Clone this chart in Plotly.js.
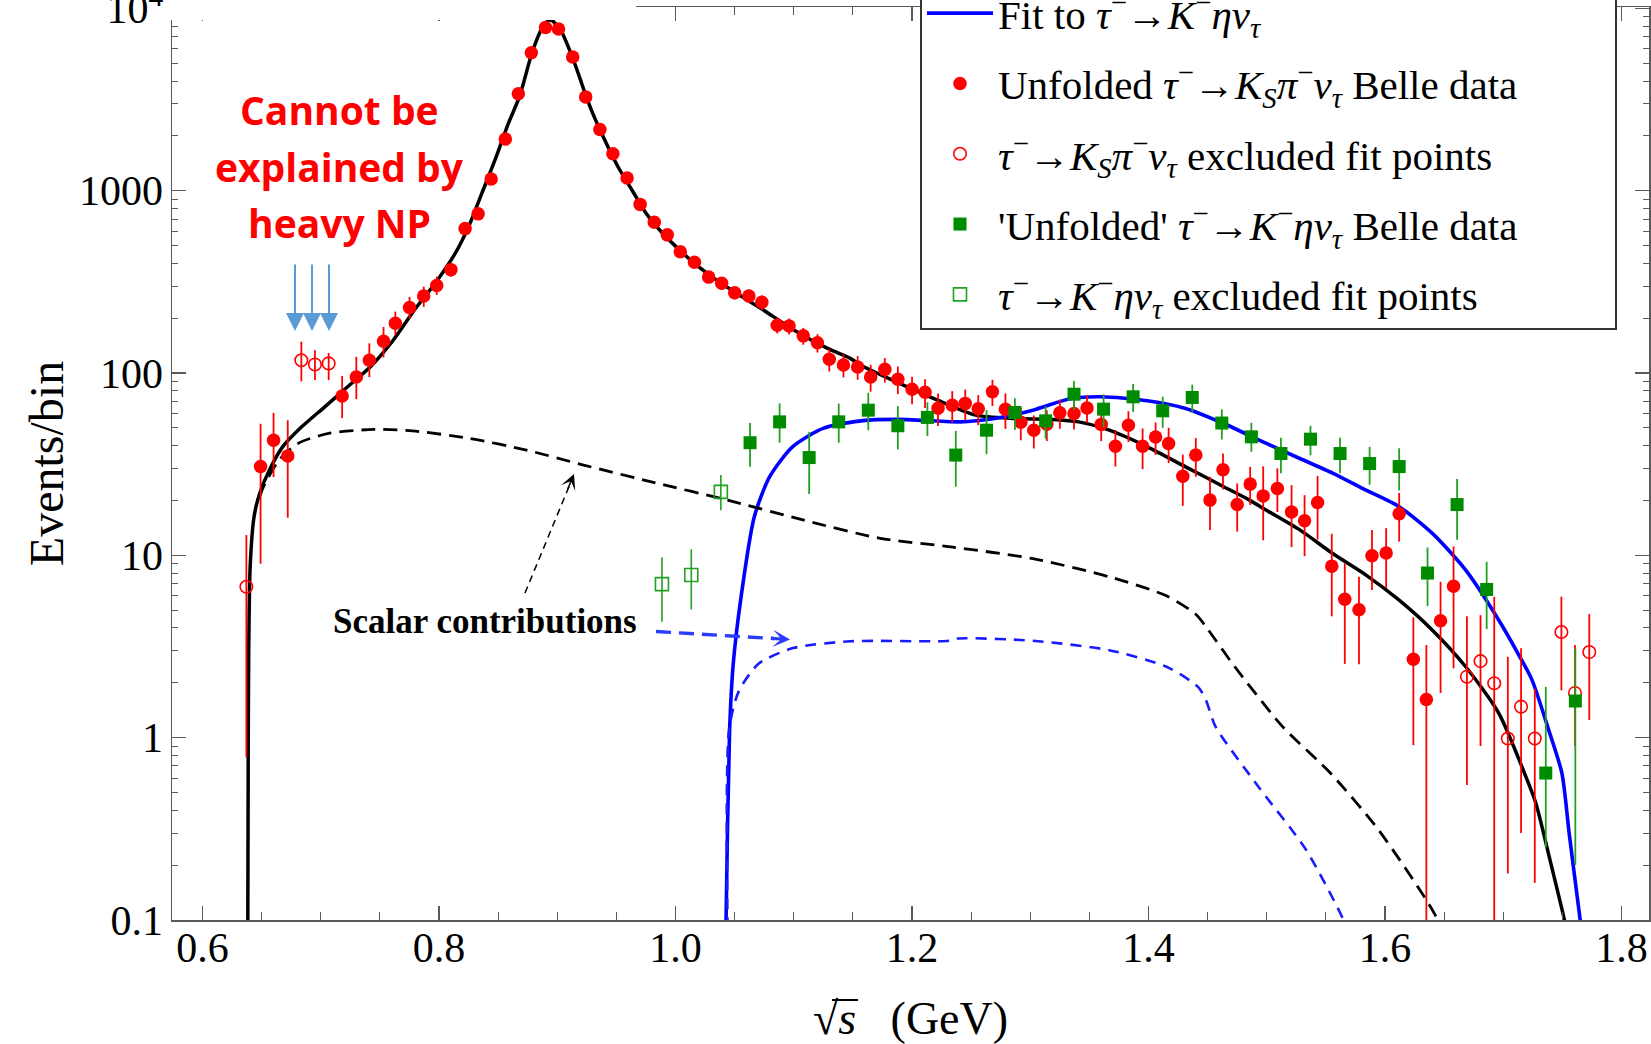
<!DOCTYPE html>
<html>
<head>
<meta charset="utf-8">
<script src="https://cdn.plot.ly/plotly-3.0.1.min.js"></script>
<style>
  html, body { margin: 0; padding: 0; background: #ffffff; }
  #chart { width: 1651px; height: 1044px; }
</style>
</head>
<body>
<div id="chart"></div>
<script>
// ---------------- data ----------------
// Fit to tau -> K_S pi nu (black solid)
const fitKpiX = [0.6382,0.6386,0.6390,0.6402,0.6435,0.6483,0.6565,0.6678,0.6838,0.7033,0.7226,0.7419,0.7607,0.7800,0.7967,0.8136,0.8249,0.8361,0.8473,0.8586,0.8680,0.8793,0.8886,0.8943,0.9020,0.9131,0.9245,0.9288,0.9401,0.9513,0.9640,0.9752,0.9879,1.0019,1.0160,1.0329,1.0497,1.0723,1.1004,1.1286,1.1481,1.1570,1.1894,1.2216,1.2538,1.2862,1.3183,1.3409,1.3668,1.3990,1.4314,1.4636,1.4854,1.4997,1.5280,1.5561,1.5840,1.6120,1.6401,1.6683,1.6963,1.7188,1.7275,1.7396,1.7518,1.7530];
const fitKpiY = [0.09,1.0,3.0,8.65,16.3,21.9,29.4,39.5,50.7,65.3,84.1,108.3,150,226,311,453,634,967,1475,2343,3281,5916,8110,8630,7780,5320,3281,2770,1896,1354,988,751,596,483,400,330,279,226,172,136.5,120,110,87.8,71,58.8,56.4,55.7,54,48.6,39.4,30.6,23.8,20.1,17.7,13.8,10.2,7.8,5.68,3.89,2.45,1.36,0.62,0.44,0.213,0.0998,0.09];

// Fit to tau -> K- eta nu (blue solid)
const fitKetaX = [1.0425,1.0427,1.0457,1.0488,1.0554,1.0666,1.0796,1.0989,1.1247,1.1570,1.1894,1.2405,1.2700,1.3023,1.3346,1.3604,1.3990,1.4314,1.4636,1.4997,1.5280,1.5561,1.5840,1.6120,1.6401,1.6683,1.6963,1.7131,1.7244,1.7385,1.7497,1.7558,1.7651,1.7660];
const fitKetaY = [0.08,0.1,1.1,2.55,5.92,16.3,27,39.4,49.7,54.7,55.7,54,56.4,62.6,72.5,74.1,70.5,64,52.9,41.1,34,28.2,22.8,18.5,13.2,8.3,4.41,2.85,2.07,1.1,0.636,0.298,0.1,0.09];

// Scalar contribution, K pi (black dashed)
const scalKpiX = [0.6483,0.6515,0.6645,0.6806,0.7065,0.7452,0.7775,0.8258,0.8739,0.9222,0.9830,1.0440,1.1085,1.1731,1.2345,1.3023,1.3668,1.4152,1.4400,1.4487,1.4730,1.5134,1.5542,1.5947,1.6432,1.6450];
const scalKpiY = [21,23.8,33.3,41.1,46.7,49.1,48.2,43.8,37.8,31.3,25,20.1,15.6,12.4,11.1,9.6,7.63,6.0,4.75,4.05,2.45,1.15,0.636,0.311,0.104,0.09];

// Scalar contribution, K eta (blue dashed)
const scalKetaX = [1.0440,1.0452,1.0535,1.0704,1.0994,1.1478,1.2312,1.2383,1.3023,1.3668,1.4152,1.4419,1.4487,1.4567,1.4931,1.5334,1.5655,1.5670];
const scalKetaY = [0.09,1.1,1.8,2.55,3.1,3.38,3.4,3.5,3.4,3.02,2.45,1.9,1.6,1.15,0.537,0.242,0.098,0.09];

// Unfolded tau -> K_S pi nu Belle data (red filled)
const kpiX = [0.649,0.660,0.672,0.718,0.730,0.741,0.753,0.763,0.775,0.787,
              0.798,0.810,0.822,0.833,0.844,0.856,0.867,0.878,0.890,0.901,
              0.913,0.924,0.936,0.947,0.959,0.970,0.982,0.993,1.004,1.016,
              1.028,1.039,1.050,1.062,1.073,1.086,1.096,1.108,1.120,1.130,
              1.142,1.154,1.165,1.177,1.188,1.200,1.211,1.222,1.234,1.245,
              1.256,1.268,1.279,1.292,1.303,1.314,1.325,1.337,1.348,1.360,
              1.372,1.383,1.395,1.406,1.417,1.429,1.440,1.452,1.463,1.475,
              1.486,1.497,1.509,1.521,1.532,1.543,1.555,1.566,1.578,1.589,
              1.601,1.612,1.624,1.635,1.647,1.658];
const kpiY = [30.7,42.8,35.1,74.8,95.1,117.6,149.4,187.4,228.8,264.8,
              302.4,369.3,620,747,1159,1921,3404,5720,7870,7710,
              5420,3273,2166,1595,1175,842,672,573,463,405,
              336,311,275.5,264.8,244.5,183,181,160,146.5,119,
              110.7,108,95.1,104.8,92.6,81.5,78.4,64.2,66.6,68.2,
              63.8,78.9,63.4,53.8,48.6,52.4,60.5,60.0,64.4,52.3,
              39.7,51.8,39.7,44.6,41.1,27.2,35.5,20.1,29.5,19.0,
              24.6,21.2,23.3,17.3,15.5,19.5,8.73,5.74,5.03,9.95,
              10.3,16.9,2.69,1.62,4.38,6.78];
const kpiErrUp = [22,17.7,20,21.6,27.8,28,29.6,30,33,33,
                  35,32,30,32,40,55,80,110,130,130,
                  110,80,60,50,40,35,30,28,26,24,
                  24,24,22,22,22,18,18,17,17,17,
                  16,16,16,16,16,14,14,13,13,13,
                  12,13,14,11,10,10,11,11,11,10,
                  9,10,10,9,9,8.5,8.5,6.9,6.7,5.8,
                  6,9.6,6.7,7,5.9,7.8,4.4,3.3,2.6,3.85,
                  3.8,5.1,1.88,1.6,2.78,4.42];
const kpiErrDn = [21.7,15.9,19,18.2,23.2,22.6,27.6,26,30,34,
                  34,32,30,32,40,55,80,110,130,130,
                  110,80,60,50,40,35,30,28,26,24,
                  24,24,22,22,22,18,18,17,17,17,
                  16,16,16,16,16,14,14,13,13,13,
                  12,13,14,11,10,10,11,11,11,10,
                  9,10,10,9,9,8.5,8.5,6.3,6.5,5.5,
                  5.7,9.1,6,6.2,5.6,7.3,4.1,3.2,2.5,3.5,
                  3.7,5.0,1.78,1.62,2.62,4.38];

// tau -> K_S pi nu excluded fit points (red open)
const kpiExX = [0.637,0.6835,0.695,0.7066,1.6693,1.6808,1.6924,1.7039,1.7151,1.7267,1.7492,1.7607,1.7728];
const kpiExY = [6.73,117.6,111.5,113.0,2.16,2.63,1.99,0.99,1.48,0.99,3.80,1.76,2.95];
const kpiExUp = [6.2,31,22,16,2.48,2.07,3.94,1.79,1.61,0.86,2.13,1.46,1.81];
const kpiExDn = [5.95,27.6,20,21.5,1.61,1.73,1.99,0.81,1.18,0.83,1.98,0.86,1.70];

// 'Unfolded' tau -> K- eta nu Belle data (green filled)
const ketaX = [1.063,1.088,1.113,1.138,1.163,1.188,1.213,1.237,1.263,1.287,
               1.313,1.337,1.362,1.387,1.412,1.437,1.462,1.487,1.512,1.537,
               1.562,1.587,1.612,1.636,1.661,1.686,1.736,1.761];
const ketaY = [41.5,54.0,34.4,54.0,62.6,51.4,57.1,35.5,48.6,60.8,
               54.7,76.6,63.4,74.1,62.1,73.5,53.2,44.7,36.2,43.4,
               36.2,31.9,30.7,8.0,19.0,6.5,0.64,1.59];
const ketaErrUp = [11.8,14.2,13.2,14,15.4,14.5,12,12.7,14,12,
                   11,14,13,13,12,13,10,8.7,8,8,
                   8,7.5,8,3.05,7.2,2.72,1.26,1.5];
const ketaErrDn = [10.9,12.5,12.7,12.5,14,13.3,12,11.7,12.7,12,
                   11,14,13,13,12,13,10,7.7,8,8,
                   8,7.5,8,2.73,6.8,2.56,0.39,1.39];

// tau -> K- eta nu excluded fit points (green open)
const ketaExX = [0.9885,1.0133,1.0383];
const ketaExY = [6.96,7.8,22.3];
const ketaExUp = [2.78,3.0,5.3];
const ketaExDn = [2.64,2.75,4.6];

// axis ticks
const xTickStep = 0.2;
const yTickVals = [0.1, 1, 10, 100, 1000, 10000];
const yTickText = ['0.1', '1', '10', '100', '1000', '10<sup>4</sup>'];

// legend / annotation texts
const nameFitKeta = 'Fit to <i>τ</i><sup>−</sup>→<i>K</i><sup>−</sup><i>ην</i><sub><i>τ</i></sub>';
const nameKpi     = 'Unfolded <i>τ</i><sup>−</sup>→<i>K</i><sub><i>S</i></sub><i>π</i><sup>−</sup><i>ν</i><sub><i>τ</i></sub> Belle data\u00a0\u00a0\u00a0\u00a0\u00a0\u00a0\u00a0\u00a0\u00a0';
const nameKpiEx   = '<i>τ</i><sup>−</sup>→<i>K</i><sub><i>S</i></sub><i>π</i><sup>−</sup><i>ν</i><sub><i>τ</i></sub> excluded fit points';
const nameKeta    = '\'Unfolded\' <i>τ</i><sup>−</sup>→<i>K</i><sup>−</sup><i>ην</i><sub><i>τ</i></sub> Belle data';
const nameKetaEx  = '<i>τ</i><sup>−</sup>→<i>K</i><sup>−</sup><i>ην</i><sub><i>τ</i></sub> excluded fit points';

// ---------------- geometry helpers (pixel -> paper) ----------------
const W = 1651, H = 1044;
const PL = 172, PR = 1649, PT = 7, PB = 920;
const px = f => (f - PL) / (PR - PL);
const py = f => (PB - f) / (PB - PT);

const minorY = [];
for (let d = -1; d <= 3; d++) for (let k = 2; k <= 9; k++) minorY.push(k * Math.pow(10, d));

const RED = '#ff0000', GREEN = '#008c00', GREEN_BAR = '#22a022', BLUE = '#0000ff';
const SPL = { shape: 'spline', smoothing: 0.7 };

const traces = [
  { x: fitKpiX, y: fitKpiY, type: 'scatter', mode: 'lines', showlegend: false,
    line: Object.assign({ color: '#000000', width: 3.5 }, SPL) },
  { x: fitKetaX, y: fitKetaY, type: 'scatter', mode: 'lines', name: nameFitKeta,
    legendgroup: 'g2', line: Object.assign({ color: BLUE, width: 3.6 }, SPL) },
  { x: scalKpiX, y: scalKpiY, type: 'scatter', mode: 'lines', showlegend: false,
    line: Object.assign({ color: '#000000', width: 2.8, dash: '14px,8px' }, SPL) },
  { x: scalKetaX, y: scalKetaY, type: 'scatter', mode: 'lines', showlegend: false,
    line: Object.assign({ color: '#1a1aff', width: 2.6, dash: '11px,8px' }, SPL) },
  { x: kpiX, y: kpiY, type: 'scatter', mode: 'markers', name: nameKpi, legendgroup: 'g3',
    marker: { symbol: 'circle', size: 13.5, color: RED },
    error_y: { type: 'data', symmetric: false, array: kpiErrUp, arrayminus: kpiErrDn, color: RED, thickness: 1.8, width: 0 } },
  { x: kpiExX, y: kpiExY, type: 'scatter', mode: 'markers', name: nameKpiEx, legendgroup: 'g4',
    marker: { symbol: 'circle-open', size: 12.5, color: RED, line: { width: 1.6, color: RED } },
    error_y: { type: 'data', symmetric: false, array: kpiExUp, arrayminus: kpiExDn, color: RED, thickness: 1.8, width: 0 } },
  { x: ketaX, y: ketaY, type: 'scatter', mode: 'markers', name: nameKeta, legendgroup: 'g5',
    marker: { symbol: 'square', size: 13, color: GREEN },
    error_y: { type: 'data', symmetric: false, array: ketaErrUp, arrayminus: ketaErrDn, color: GREEN_BAR, thickness: 1.8, width: 0 } },
  { x: ketaExX, y: ketaExY, type: 'scatter', mode: 'markers', name: nameKetaEx, legendgroup: 'g6',
    marker: { symbol: 'square-open', size: 13, color: GREEN_BAR, line: { width: 1.6, color: GREEN_BAR } },
    error_y: { type: 'data', symmetric: false, array: ketaExUp, arrayminus: ketaExDn, color: GREEN_BAR, thickness: 1.6, width: 0 } }
];

const serif = 'Liberation Serif, Times New Roman, serif';
const axisGray = '#5a5a5a';

const annotations = [
  { xref: 'paper', yref: 'paper', x: px(339), y: py(109.5), text: '<b>Cannot be</b>', showarrow: false,
    xanchor: 'center', yanchor: 'middle', font: { family: 'Open Sans, sans-serif', size: 39, color: RED } },
  { xref: 'paper', yref: 'paper', x: px(339), y: py(166.5), text: '<b>explained by</b>', showarrow: false,
    xanchor: 'center', yanchor: 'middle', font: { family: 'Open Sans, sans-serif', size: 39, color: RED } },
  { xref: 'paper', yref: 'paper', x: px(339), y: py(222.5), text: '<b>heavy NP</b>', showarrow: false,
    xanchor: 'center', yanchor: 'middle', font: { family: 'Open Sans, sans-serif', size: 39, color: RED } },
  { xref: 'paper', yref: 'paper', x: px(485), y: py(621), text: '<b>Scalar contributions</b>', showarrow: false,
    xanchor: 'center', yanchor: 'middle', font: { family: serif, size: 35, color: '#000000' } }
];
// three light-blue arrows
[295, 312, 329].forEach(xx => {
  annotations.push({ xref: 'paper', yref: 'paper', x: px(xx), y: py(331), text: '', showarrow: true,
    ax: 0, ay: -68, arrowhead: 2, arrowwidth: 2, arrowsize: 1.8, arrowcolor: '#5b9bd5' });
});
// arrowheads for the dashed pointer arrows
annotations.push({ xref: 'paper', yref: 'paper', x: px(574), y: py(474), text: '', showarrow: true,
  ax: -6.9, ay: 16.6, arrowhead: 3, arrowwidth: 1.5, arrowsize: 1.7, arrowcolor: '#000000' });
annotations.push({ xref: 'paper', yref: 'paper', x: px(790), y: py(639.5), text: '', showarrow: true,
  ax: -20, ay: -1.2, arrowhead: 3, arrowwidth: 3.2, arrowsize: 0.9, arrowcolor: '#2a3cff' });

const shapes = [
  // dashed pointer shafts
  { type: 'line', xref: 'paper', yref: 'paper', x0: px(525), y0: py(593), x1: px(570.5), y1: py(483),
    line: { color: '#000000', width: 1.5, dash: '7px,5px' } },
  { type: 'line', xref: 'paper', yref: 'paper', x0: px(656), y0: py(631.5), x1: px(774), y1: py(638.5),
    line: { color: '#2a3cff', width: 3.4, dash: '15px,8px' } },
  // the reference is cropped: the top-left part of the frame is blanked out
  { type: 'rect', xref: 'paper', yref: 'paper', layer: 'above', x0: px(165), x1: px(636), y0: py(20), y1: py(-2),
    fillcolor: '#ffffff', line: { width: 0 } },
  // vinculum of the square root in the x-axis title
  { type: 'line', xref: 'paper', yref: 'paper', x0: px(832), x1: px(858), y0: py(1000), y1: py(1000),
    line: { color: '#000000', width: 2 } }
];

const layout = {
  width: W, height: H,
  margin: { l: PL, r: W - PR, t: PT, b: H - PB, autoexpand: false },
  paper_bgcolor: '#ffffff', plot_bgcolor: '#ffffff',
  showlegend: true,
  font: { family: serif, color: '#000000' },
  xaxis: {
    range: [0.5741, 1.8233], dtick: xTickStep, tick0: 0, tickformat: '.1f',
    ticks: 'inside', ticklen: 14, tickwidth: 1.2, tickcolor: axisGray,
    showline: true, linecolor: axisGray, linewidth: 1.5, mirror: 'ticks',
    showgrid: false, zeroline: false,
    tickfont: { family: serif, size: 42, color: '#000000' },
    ticklabelstandoff: -10,
    minor: { dtick: 0.05, tick0: 0, ticks: 'inside', ticklen: 8, tickwidth: 1, tickcolor: axisGray, showgrid: false },
    title: { text: '√<i>s</i>\u00a0\u00a0\u00a0(GeV)', font: { family: serif, size: 46, color: '#000000' }, standoff: 35 }
  },
  yaxis: {
    type: 'log', range: [-1, 4.008],
    tickmode: 'array', tickvals: yTickVals, ticktext: yTickText,
    ticks: 'inside', ticklen: 14, tickwidth: 1.2, tickcolor: axisGray,
    showline: true, linecolor: axisGray, linewidth: 1.5, mirror: 'ticks',
    showgrid: false, zeroline: false,
    tickfont: { family: serif, size: 42, color: '#000000' },
    ticklabelstandoff: -1, ticklabeloverflow: 'allow',
    minor: { tickmode: 'array', tickvals: minorY, ticks: 'inside', ticklen: 6, tickwidth: 1, tickcolor: axisGray, showgrid: false },
    title: { text: 'Events/bin', font: { family: serif, size: 48, color: '#000000' }, standoff: 0 }
  },
  legend: {
    x: px(920), y: py(330), xanchor: 'left', yanchor: 'bottom',
    bgcolor: '#ffffff', bordercolor: '#333333', borderwidth: 2,
    font: { family: serif, size: 41, color: '#000000' },
    traceorder: 'grouped', tracegroupgap: 14, itemwidth: 66, itemsizing: 'trace'
  },
  annotations: annotations,
  shapes: shapes
};

Plotly.newPlot('chart', traces, layout, { displayModeBar: false, staticPlot: true });
</script>
</body>
</html>
